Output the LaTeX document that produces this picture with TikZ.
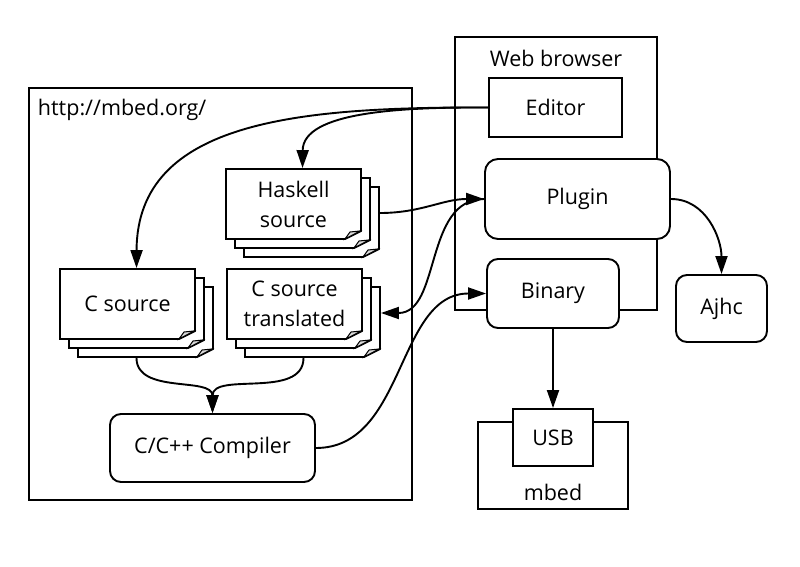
\documentclass[tikz,border=0pt]{standalone}
\usepackage{fontspec}
\setmainfont{Open Sans}
\usetikzlibrary{arrows.meta}

% one sheet of a source stack, top-left corner at (#1,#2)
\newcommand{\docsheet}[2]{%
  \draw[fill=white] (#1,#2) -- ++(135,0) -- ++(0,-62) -- ++(-16,-8) -- ++(-119,0) -- cycle;
  \draw[fill=gray!30, line width=1pt] (#1+119,#2-70) -- (#1+134,#2-62) -- (#1+124,#2-63) -- cycle;
}
% stack of three sheets: name, top-left of front sheet, text
\newcommand{\srcstack}[4]{%
  \foreach \d in {18,9,0} {\docsheet{#2+\d}{#3-\d}}
  \node[stackarea] (#1) at (#2+76.5,#3-44) {};
  \node[align=center] (#1-text) at (#2+67.5,#3-35) {#4};
}

\begin{document}
\begin{tikzpicture}[
  x=1pt, y=1pt, line width=1.9pt,
  every node/.style={font=\fontsize{21.5}{30}\selectfont},
  plainbox/.style={draw, fill=white, inner sep=0pt},
  roundbox/.style={plainbox, rounded corners=11pt},
  stackarea/.style={inner sep=0pt, minimum width=153pt, minimum height=88pt},
  arr/.style={-{Triangle[length=18pt,width=12pt]}}
]
\useasboundingbox (0,0) rectangle (800,566);

% containers
\node[draw, minimum width=383pt, minimum height=412pt] (site) at (220.5,272) {};
\node[anchor=west, inner sep=0pt] (sitelabel) at (37,456) {http://mbed.org/};
\node[draw, minimum width=202pt, minimum height=273pt] (browser) at (556,392.5) {};
\node (browserlabel) at (556,508) {Web browser};

% sources
\srcstack{hask}{226}{397}{Haskell\\source}
\srcstack{csrc}{60}{297}{C source}
\srcstack{ctrans}{227}{297}{C source\\translated}

% tools
\node[plainbox, minimum width=133pt, minimum height=59pt] (editor) at (555.5,458.5) {Editor};
\node[roundbox, rounded corners=13pt, minimum width=185pt, minimum height=80pt] (plugin) at (577.5,367) {Plugin};
\node[roundbox, minimum width=132pt, minimum height=69pt] (binary) at (553,272.5) {Binary};
\node[roundbox, minimum width=91pt, minimum height=67pt] (ajhc) at (721.5,257.5) {Ajhc};
\node[roundbox, minimum width=205pt, minimum height=68pt] (compiler) at (212.5,118) {C/C++ Compiler};

% board
\node[plainbox, minimum width=150pt, minimum height=87pt] (board) at (553,100.5) {};
\node (boardlabel) at (553,74) {mbed};
\node[plainbox, minimum width=80pt, minimum height=57pt] (usb) at (553,128.5) {USB};

% flows
\draw[arr] (editor.west) .. controls (300,459) and (137,446) .. (csrc.north);
\draw[arr] (editor.west) .. controls (400,459) and (303,454) .. (hask.north);
\draw[arr] (hask.east) to[out=0,in=180] (plugin.west);
\draw[arr] (plugin.west) to[out=180,in=0] (ctrans.east);
\draw[arr] (csrc.south) to[out=-90,in=90] (compiler.north);
\draw[arr] (ctrans.south) to[out=-90,in=90] (compiler.north);
\draw[arr] (compiler.east) to[out=0,in=180] (binary.west);
\draw[arr] (plugin.east) to[out=0,in=90] (ajhc.north);
\draw[arr] (binary.south) -- (usb.north);
\end{tikzpicture}
\end{document}
